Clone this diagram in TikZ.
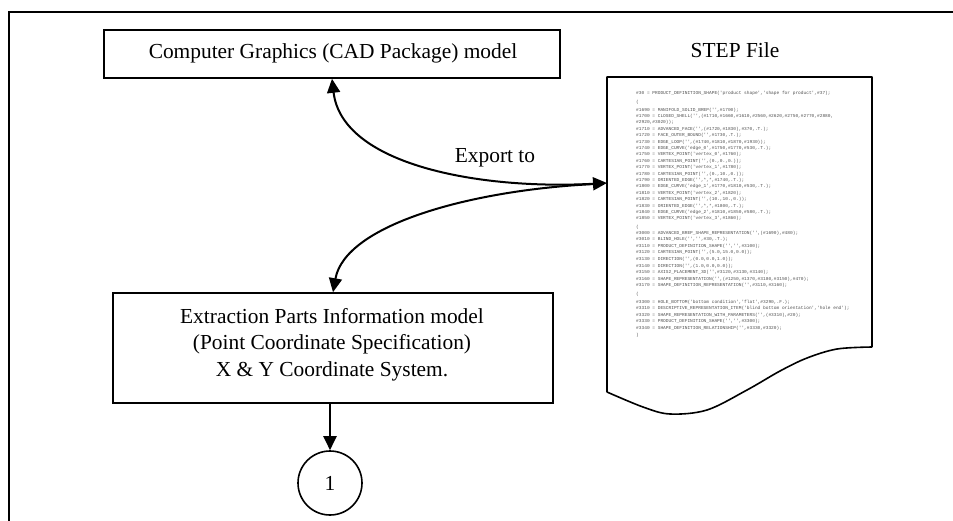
\documentclass[tikz,border=0pt]{standalone}
\usepackage{fontspec}
\setmainfont{Liberation Serif}
\newfontfamily\codefont{Liberation Mono}
\usetikzlibrary{arrows.meta}
\tikzset{
  box/.style={draw, line width=1.6pt, inner sep=0pt, font=\fontsize{21.4}{26.5}\selectfont},
  lbl/.style={inner sep=0pt, font=\fontsize{21.4}{26.5}\selectfont},
  codeline/.style={anchor=west, inner sep=0pt, font=\fontsize{4.5}{5}\selectfont\codefont, text=black!68},
  conn/.style={line width=2pt, draw},
  tip/.style={-{Triangle[length=14pt,width=13pt]}}
}
\newcommand\codeln[3]{\node[codeline] (#1) at (636,#2) {#3};}
\begin{document}
\begin{tikzpicture}[x=1pt,y=-1pt]
\useasboundingbox (0,0) rectangle (953,520);
\clip (0,0) rectangle (953,520);
\fill[white] (0,0) rectangle (953,520);
% outer frame (extends beyond picture)
\draw[line width=1.6pt] (9,600) -- (9,12) -- (1000,12);

% top box
\node[box, minimum width=456pt, minimum height=48pt] (top) at (332,54) {};
\node[lbl] (toptxt) at (333,53) {Computer Graphics (CAD Package) model};

% STEP file label
\node[lbl] (steplbl) at (735,50) {STEP File};

% document shape
\draw[line width=1.6pt, line join=round] (607,392) -- (607,77) -- (872,77) -- (872,347)
  plot[smooth, tension=0.55] coordinates {(872,347) (837,349) (807,358) (780,371) (747,390) (707,410) (670,414) (643,407) (607,392)};
\coordinate (docin) at (607,183);

% STEP text
\codeln{c1}{93}{\#30 = PRODUCT\_DEFINITION\_SHAPE('product shape','shape for product',\#37);}
\codeln{c2}{102}{(}
\codeln{c3}{110}{\#1690 = MANIFOLD\_SOLID\_BREP('',\#1700);}
\codeln{c4}{116.4}{\#1700 = CLOSED\_SHELL('',(\#1710,\#1660,\#1610,\#2560,\#2620,\#2750,\#2770,\#2880,}
\codeln{c5}{122.8}{\#2920,\#3020));}
\codeln{c6}{129.2}{\#1710 = ADVANCED\_FACE('',(\#1720,\#1830),\#370,.T.);}
\codeln{c7}{135.6}{\#1720 = FACE\_OUTER\_BOUND('',\#1730,.T.);}
\codeln{c8}{142}{\#1730 = EDGE\_LOOP('',(\#1740,\#1810,\#1870,\#1930));}
\codeln{c9}{148.4}{\#1740 = EDGE\_CURVE('edge\_0',\#1750,\#1770,\#530,.T.);}
\codeln{c10}{154.8}{\#1750 = VERTEX\_POINT('vertex\_0',\#1760);}
\codeln{c11}{161.2}{\#1760 = CARTESIAN\_POINT('',(0.,0.,0.));}
\codeln{c12}{167.6}{\#1770 = VERTEX\_POINT('vertex\_1',\#1780);}
\codeln{c13}{174}{\#1780 = CARTESIAN\_POINT('',(0.,10.,0.));}
\codeln{c14}{180.4}{\#1790 = ORIENTED\_EDGE('',*,*,\#1740,.T.);}
\codeln{c15}{186.8}{\#1800 = EDGE\_CURVE('edge\_1',\#1770,\#1810,\#530,.T.);}
\codeln{c16}{193.2}{\#1810 = VERTEX\_POINT('vertex\_2',\#1820);}
\codeln{c17}{199.6}{\#1820 = CARTESIAN\_POINT('',(10.,10.,0.));}
\codeln{c18}{206}{\#1830 = ORIENTED\_EDGE('',*,*,\#1800,.T.);}
\codeln{c19}{212.4}{\#1840 = EDGE\_CURVE('edge\_2',\#1810,\#1850,\#580,.T.);}
\codeln{c20}{218.8}{\#1850 = VERTEX\_POINT('vertex\_3',\#1860);}
\codeln{c21}{227}{(}
\codeln{c22}{233}{\#3000 = ADVANCED\_BREP\_SHAPE\_REPRESENTATION('',(\#1690),\#480);}
\codeln{c23}{239.6}{\#3010 = BLIND\_HOLE('','',\#30,.T.);}
\codeln{c24}{246.2}{\#3110 = PRODUCT\_DEFINITION\_SHAPE('','',\#3100);}
\codeln{c25}{252.8}{\#3120 = CARTESIAN\_POINT('',(5.0,15.0,0.0));}
\codeln{c26}{259.4}{\#3130 = DIRECTION('',(0.0,0.0,1.0));}
\codeln{c27}{266}{\#3140 = DIRECTION('',(1.0,0.0,0.0));}
\codeln{c28}{272.6}{\#3150 = AXIS2\_PLACEMENT\_3D('',\#3120,\#3130,\#3140);}
\codeln{c29}{279.2}{\#3160 = SHAPE\_REPRESENTATION('',(\#1250,\#1370,\#3180,\#3150),\#470);}
\codeln{c30}{285.8}{\#3170 = SHAPE\_DEFINITION\_REPRESENTATION('',\#3110,\#3160);}
\codeln{c31}{294}{(}
\codeln{c32}{302}{\#3300 = HOLE\_BOTTOM('bottom condition','flat',\#3290,.F.);}
\codeln{c33}{308.5}{\#3310 = DESCRIPTIVE\_REPRESENTATION\_ITEM('blind bottom orientation','hole end');}
\codeln{c34}{315}{\#3320 = SHAPE\_REPRESENTATION\_WITH\_PARAMETERS('',(\#3310),\#20);}
\codeln{c35}{321.5}{\#3330 = PRODUCT\_DEFINITION\_SHAPE('','',\#3300);}
\codeln{c36}{328}{\#3340 = SHAPE\_DEFINITION\_RELATIONSHIP('',\#3330,\#3320);}
\codeln{c37}{335}{)}

% bottom box
\node[box, minimum width=440pt, minimum height=110pt] (bot) at (333,348) {};
\node[lbl, align=center] (bottxt) at (332,344.5) {Extraction Parts Information model\\(Point Coordinate Specification)\\X \& Y Coordinate System.};

% circle
\node[draw, circle, line width=1.6pt, minimum size=64pt, inner sep=0pt, font=\fontsize{21.4}{26.5}\selectfont] (circ) at (330,483) {1};

% connectors
\draw[conn, {Triangle[length=14pt,width=13pt]}-{Triangle[length=14pt,width=13pt]}]
  (top.south) .. controls (342,165) and (480,190) .. (docin);
\draw[conn, tip] (595,184) .. controls (470,190) and (345,225) .. (bot.north);
\node[lbl] (export) at (495,158) {Export to};
\draw[conn, tip] (bot.south -| circ.north) -- (circ.north);
\end{tikzpicture}
\end{document}
